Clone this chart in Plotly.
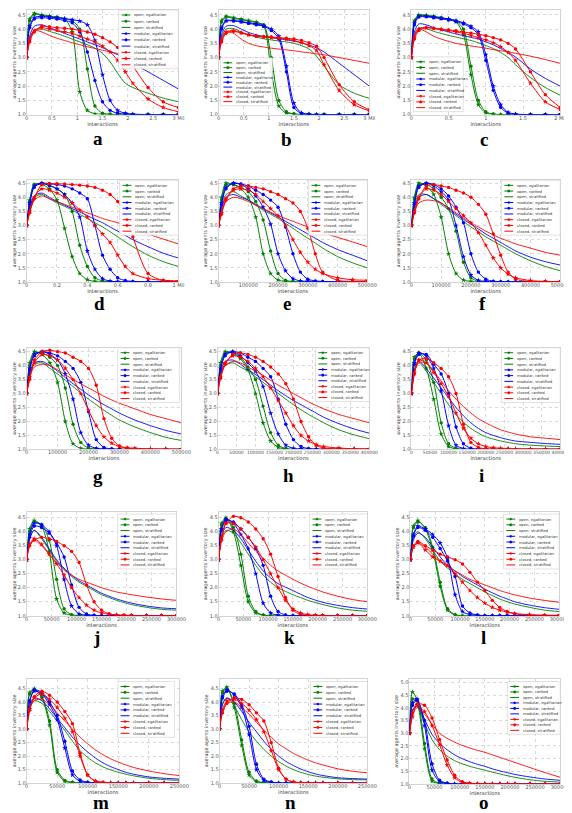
import plotly.graph_objects as go

# ---------------- data ----------------
SERIES_KEYS = ["oe", "or", "os", "me", "mr", "ms", "ce", "cr", "cs"]
SERIES_NAMES = ["open, egalitarian", "open, ranked", "open, stratified",
                "modular, egalitarian", "modular, ranked", "modular, stratified",
                "closed, egalitarian", "closed, ranked", "closed, stratified"]
PANEL_LETTERS = ["a", "b", "c", "d", "e", "f", "g", "h", "i", "j", "k", "l", "m", "n", "o"]

X_3MIL = [0, 0.06, 0.15, 0.3, 0.45, 0.6, 0.75, 0.9, 1.05, 1.2, 1.35, 1.5, 1.65, 1.8, 1.95, 2.1, 2.4, 2.7, 3.0]
X_2MIL = [0, 0.04, 0.1, 0.2, 0.3, 0.4, 0.5, 0.6, 0.7, 0.8, 0.9, 1.0, 1.1, 1.2, 1.3, 1.4, 1.6, 1.8, 2.0]
X_1MIL = [0, 0.02, 0.05, 0.1, 0.15, 0.2, 0.25, 0.3, 0.35, 0.4, 0.45, 0.5, 0.55, 0.6, 0.65, 0.7, 0.8, 0.9, 1.0]
X_500K = [0, 10000, 25000, 50000, 75000, 100000, 125000, 150000, 175000, 200000, 225000, 250000,
          275000, 300000, 325000, 350000, 400000, 450000, 500000]
X_400K = [0, 8000, 20000, 40000, 60000, 80000, 100000, 120000, 140000, 160000, 180000, 200000,
          220000, 240000, 260000, 280000, 320000, 360000, 400000]
X_300K = [0, 6000, 15000, 30000, 45000, 60000, 75000, 90000, 105000, 120000, 135000, 150000,
          165000, 180000, 195000, 210000, 240000, 270000, 300000]
X_250K = [0, 5000, 12500, 25000, 37500, 50000, 62500, 75000, 87500, 100000, 112500, 125000,
          137500, 150000, 162500, 175000, 200000, 225000, 250000]

PANEL_A = {
    "oe": [3.0, 4.35, 4.55, 4.5, 4.46, 4.42, 4.36, 3.9, 1.8, 1.15, 1.03, 1.01, 1.0, 1.0, 1.0, 1.0, 1.0, 1.0, 1.0],
    "or": [3.0, 4.3, 4.52, 4.48, 4.44, 4.4, 4.35, 4.3, 4.0, 2.6, 1.3, 1.05, 1.02, 1.0, 1.0, 1.0, 1.0, 1.0, 1.0],
    "os": [3.0, 3.65, 3.95, 4.0, 3.92, 3.84, 3.75, 3.65, 3.55, 3.45, 3.33, 3.15, 2.85, 2.45, 2.1, 1.95, 1.75, 1.58, 1.45],
    "me": [3.0, 4.1, 4.4, 4.45, 4.42, 4.4, 4.37, 4.33, 4.28, 4.15, 3.6, 2.4, 1.5, 1.15, 1.05, 1.02, 1.0, 1.0, 1.0],
    "mr": [3.0, 4.05, 4.35, 4.4, 4.38, 4.35, 4.3, 4.22, 3.9, 3.2, 2.2, 1.45, 1.15, 1.05, 1.02, 1.0, 1.0, 1.0, 1.0],
    "ms": [3.0, 3.75, 4.1, 4.15, 4.05, 3.95, 3.85, 3.75, 3.65, 3.55, 3.45, 3.35, 3.22, 3.1, 2.95, 2.8, 2.5, 2.2, 1.9],
    "ce": [3.0, 3.6, 3.95, 4.05, 4.0, 3.95, 3.9, 3.85, 3.75, 3.65, 3.55, 3.4, 3.2, 2.9, 2.5, 2.1, 1.55, 1.25, 1.1],
    "cr": [3.0, 3.55, 3.9, 4.1, 4.08, 4.05, 4.03, 4.0, 3.95, 3.9, 3.82, 3.7, 3.55, 3.35, 3.05, 2.7, 1.95, 1.45, 1.25],
    "cs": [3.0, 3.7, 3.95, 3.9, 3.78, 3.68, 3.6, 3.52, 3.45, 3.38, 3.32, 3.26, 3.2, 3.14, 3.08, 3.02, 2.9, 2.78, 2.65],
}
PANEL_B = {
    "oe": [3.0, 4.3, 4.45, 4.4, 4.35, 4.3, 4.25, 4.1, 2.5, 1.3, 1.05, 1.02, 1.0, 1.0, 1.0, 1.0, 1.0, 1.0, 1.0],
    "or": [3.0, 4.25, 4.42, 4.37, 4.33, 4.28, 4.22, 4.15, 3.0, 1.5, 1.1, 1.03, 1.0, 1.0, 1.0, 1.0, 1.0, 1.0, 1.0],
    "os": [3.0, 3.7, 4.0, 4.02, 3.9, 3.8, 3.72, 3.66, 3.62, 3.58, 3.55, 3.5, 3.42, 3.3, 3.05, 2.7, 2.05, 1.75, 1.57],
    "me": [3.0, 4.05, 4.3, 4.3, 4.27, 4.22, 4.18, 4.12, 4.0, 3.75, 2.7, 1.4, 1.06, 1.02, 1.0, 1.0, 1.0, 1.0, 1.0],
    "mr": [3.0, 4.0, 4.28, 4.28, 4.25, 4.2, 4.15, 4.1, 3.95, 3.65, 2.5, 1.25, 1.04, 1.01, 1.0, 1.0, 1.0, 1.0, 1.0],
    "ms": [3.0, 3.8, 4.1, 4.12, 4.0, 3.88, 3.8, 3.74, 3.7, 3.66, 3.62, 3.58, 3.52, 3.44, 3.34, 3.2, 2.8, 2.4, 2.0],
    "ce": [3.0, 3.6, 3.9, 3.95, 3.88, 3.8, 3.75, 3.72, 3.7, 3.68, 3.65, 3.6, 3.52, 3.42, 3.25, 2.75, 1.85, 1.35, 1.13],
    "cr": [3.0, 3.55, 3.85, 3.92, 3.86, 3.8, 3.76, 3.74, 3.72, 3.7, 3.68, 3.65, 3.6, 3.52, 3.4, 3.0, 2.05, 1.45, 1.17],
    "cs": [3.0, 3.7, 3.9, 3.85, 3.65, 3.5, 3.42, 3.37, 3.33, 3.3, 3.27, 3.24, 3.2, 3.17, 3.13, 3.1, 3.0, 2.9, 2.8],
}
PANEL_C = {
    "oe": [3.0, 4.3, 4.5, 4.48, 4.45, 4.4, 4.35, 4.25, 3.8, 2.4, 1.35, 1.06, 1.01, 1.0, 1.0, 1.0, 1.0, 1.0, 1.0],
    "or": [3.0, 4.25, 4.48, 4.47, 4.44, 4.4, 4.35, 4.28, 4.0, 2.7, 1.5, 1.1, 1.02, 1.0, 1.0, 1.0, 1.0, 1.0, 1.0],
    "os": [3.0, 3.8, 4.05, 4.02, 3.92, 3.85, 3.78, 3.72, 3.66, 3.6, 3.52, 3.42, 3.32, 3.18, 3.0, 2.75, 2.3, 1.95, 1.68],
    "me": [3.0, 4.2, 4.45, 4.45, 4.42, 4.38, 4.35, 4.3, 4.22, 4.1, 3.9, 3.1, 2.0, 1.35, 1.08, 1.02, 1.0, 1.0, 1.0],
    "mr": [3.0, 4.15, 4.42, 4.43, 4.4, 4.36, 4.32, 4.27, 4.18, 4.05, 3.8, 2.9, 1.85, 1.25, 1.05, 1.01, 1.0, 1.0, 1.0],
    "ms": [3.0, 3.9, 4.18, 4.15, 4.05, 3.97, 3.9, 3.83, 3.77, 3.71, 3.65, 3.55, 3.45, 3.32, 3.18, 3.02, 2.6, 2.27, 2.0],
    "ce": [3.0, 3.7, 4.0, 4.05, 4.02, 3.98, 3.95, 3.9, 3.85, 3.78, 3.7, 3.62, 3.52, 3.38, 3.18, 2.9, 2.1, 1.45, 1.18],
    "cr": [3.0, 3.65, 3.95, 4.05, 4.03, 4.0, 3.97, 3.94, 3.9, 3.86, 3.82, 3.77, 3.7, 3.62, 3.5, 3.3, 2.5, 1.7, 1.25],
    "cs": [3.0, 3.8, 4.0, 3.9, 3.75, 3.65, 3.57, 3.5, 3.45, 3.41, 3.37, 3.33, 3.28, 3.24, 3.2, 3.15, 3.05, 2.93, 2.8],
}
PANEL_D = {
    "oe": [3.0, 3.9, 4.45, 4.45, 4.3, 3.9, 2.9, 1.9, 1.3, 1.08, 1.02, 1.0, 1.0, 1.0, 1.0, 1.0, 1.0, 1.0, 1.0],
    "or": [3.0, 3.85, 4.45, 4.48, 4.42, 4.3, 4.1, 3.5, 2.3, 1.55, 1.15, 1.04, 1.01, 1.0, 1.0, 1.0, 1.0, 1.0, 1.0],
    "os": [3.0, 3.6, 4.0, 4.1, 3.95, 3.8, 3.68, 3.55, 3.4, 3.25, 3.1, 2.95, 2.78, 2.6, 2.42, 2.25, 1.95, 1.72, 1.55],
    "me": [3.0, 3.8, 4.4, 4.5, 4.42, 4.3, 4.1, 3.8, 3.3, 2.1, 1.45, 1.12, 1.03, 1.01, 1.0, 1.0, 1.0, 1.0, 1.0],
    "mr": [3.0, 3.75, 4.35, 4.5, 4.48, 4.45, 4.4, 4.3, 4.15, 3.95, 3.0, 1.95, 1.45, 1.15, 1.05, 1.02, 1.0, 1.0, 1.0],
    "ms": [3.0, 3.65, 4.05, 4.15, 4.0, 3.85, 3.72, 3.6, 3.48, 3.35, 3.22, 3.1, 2.95, 2.8, 2.65, 2.5, 2.25, 2.02, 1.85],
    "ce": [3.0, 3.5, 4.0, 4.3, 4.25, 4.15, 4.0, 3.8, 3.55, 3.3, 3.0, 2.7, 2.4, 1.95, 1.55, 1.3, 1.12, 1.06, 1.04],
    "cr": [3.0, 3.45, 3.95, 4.45, 4.48, 4.48, 4.47, 4.45, 4.43, 4.4, 4.35, 4.25, 4.1, 3.85, 3.4, 2.6, 1.3, 1.05, 1.02],
    "cs": [3.0, 3.5, 3.9, 4.05, 3.95, 3.85, 3.75, 3.65, 3.55, 3.45, 3.35, 3.25, 3.17, 3.1, 3.0, 2.9, 2.7, 2.52, 2.35],
}
PANEL_E = {
    "oe": [3.0, 4.0, 4.5, 4.45, 4.3, 4.0, 3.3, 2.0, 1.3, 1.07, 1.02, 1.0, 1.0, 1.0, 1.0, 1.0, 1.0, 1.0, 1.0],
    "or": [3.0, 3.9, 4.45, 4.45, 4.35, 4.2, 3.85, 3.2, 2.1, 1.3, 1.06, 1.02, 1.0, 1.0, 1.0, 1.0, 1.0, 1.0, 1.0],
    "os": [3.0, 3.7, 4.1, 4.2, 4.05, 3.9, 3.72, 3.55, 3.4, 3.25, 3.08, 2.9, 2.72, 2.55, 2.38, 2.2, 1.9, 1.68, 1.5],
    "me": [3.0, 3.8, 4.35, 4.5, 4.45, 4.3, 4.05, 3.65, 3.05, 2.0, 1.4, 1.12, 1.04, 1.02, 1.0, 1.0, 1.0, 1.0, 1.0],
    "mr": [3.0, 3.75, 4.3, 4.5, 4.47, 4.4, 4.25, 4.1, 3.9, 3.65, 2.95, 2.0, 1.35, 1.1, 1.04, 1.02, 1.0, 1.0, 1.0],
    "ms": [3.0, 3.6, 4.0, 4.1, 4.0, 3.9, 3.75, 3.6, 3.45, 3.3, 3.15, 3.0, 2.85, 2.7, 2.55, 2.4, 2.15, 1.95, 1.75],
    "ce": [3.0, 3.45, 3.95, 4.25, 4.3, 4.25, 4.1, 3.85, 3.6, 3.35, 3.0, 2.5, 2.05, 1.7, 1.45, 1.3, 1.15, 1.08, 1.06],
    "cr": [3.0, 3.4, 3.9, 4.3, 4.4, 4.4, 4.35, 4.3, 4.2, 4.1, 3.95, 3.8, 3.5, 2.9, 2.0, 1.35, 1.06, 1.02, 1.01],
    "cs": [3.0, 3.5, 3.85, 4.0, 3.95, 3.85, 3.72, 3.6, 3.47, 3.35, 3.25, 3.15, 3.05, 2.95, 2.85, 2.75, 2.58, 2.42, 2.25],
}
PANEL_F = {
    "oe": [3.0, 4.0, 4.5, 4.4, 4.1, 3.3, 2.0, 1.3, 1.07, 1.02, 1.0, 1.0, 1.0, 1.0, 1.0, 1.0, 1.0, 1.0, 1.0],
    "or": [3.0, 3.95, 4.45, 4.45, 4.3, 4.0, 3.6, 2.8, 1.7, 1.15, 1.03, 1.0, 1.0, 1.0, 1.0, 1.0, 1.0, 1.0, 1.0],
    "os": [3.0, 3.7, 4.1, 4.1, 3.95, 3.75, 3.55, 3.35, 3.15, 2.95, 2.78, 2.6, 2.45, 2.3, 2.15, 2.0, 1.75, 1.55, 1.4],
    "me": [3.0, 3.8, 4.4, 4.5, 4.4, 4.2, 3.9, 3.0, 1.9, 1.25, 1.06, 1.02, 1.0, 1.0, 1.0, 1.0, 1.0, 1.0, 1.0],
    "mr": [3.0, 3.75, 4.35, 4.5, 4.45, 4.3, 4.05, 3.65, 3.1, 2.0, 1.35, 1.1, 1.03, 1.01, 1.0, 1.0, 1.0, 1.0, 1.0],
    "ms": [3.0, 3.65, 4.0, 4.1, 3.95, 3.8, 3.6, 3.4, 3.22, 3.05, 2.88, 2.7, 2.55, 2.4, 2.25, 2.1, 1.88, 1.72, 1.6],
    "ce": [3.0, 3.5, 4.0, 4.3, 4.25, 4.1, 3.85, 3.6, 3.35, 3.1, 2.75, 2.3, 1.85, 1.5, 1.28, 1.15, 1.05, 1.02, 1.01],
    "cr": [3.0, 3.45, 3.95, 4.4, 4.45, 4.4, 4.35, 4.25, 4.15, 4.0, 3.75, 3.4, 2.7, 1.95, 1.35, 1.1, 1.02, 1.0, 1.0],
    "cs": [3.0, 3.45, 3.8, 3.9, 3.88, 3.8, 3.62, 3.45, 3.27, 3.1, 2.95, 2.8, 2.67, 2.55, 2.45, 2.35, 2.2, 2.05, 1.95],
}
PANEL_G = {
    "oe": [3.0, 4.1, 4.5, 4.4, 4.1, 3.4, 2.0, 1.2, 1.04, 1.01, 1.0, 1.0, 1.0, 1.0, 1.0, 1.0, 1.0, 1.0, 1.0],
    "or": [3.0, 4.0, 4.45, 4.45, 4.3, 4.0, 3.2, 1.9, 1.25, 1.05, 1.02, 1.0, 1.0, 1.0, 1.0, 1.0, 1.0, 1.0, 1.0],
    "os": [3.0, 3.7, 4.05, 4.1, 3.9, 3.7, 3.47, 3.25, 3.02, 2.8, 2.6, 2.4, 2.22, 2.05, 1.92, 1.8, 1.6, 1.43, 1.32],
    "me": [3.0, 3.9, 4.4, 4.5, 4.4, 4.2, 3.7, 2.8, 1.6, 1.15, 1.04, 1.01, 1.0, 1.0, 1.0, 1.0, 1.0, 1.0, 1.0],
    "mr": [3.0, 3.85, 4.35, 4.5, 4.45, 4.35, 4.15, 3.9, 3.4, 2.35, 1.35, 1.07, 1.02, 1.0, 1.0, 1.0, 1.0, 1.0, 1.0],
    "ms": [3.0, 3.75, 4.1, 4.15, 4.0, 3.8, 3.57, 3.35, 3.15, 2.95, 2.77, 2.6, 2.45, 2.3, 2.17, 2.05, 1.85, 1.68, 1.55],
    "ce": [3.0, 3.6, 4.1, 4.4, 4.35, 4.2, 3.9, 3.5, 3.0, 2.4, 1.85, 1.45, 1.22, 1.1, 1.06, 1.04, 1.02, 1.01, 1.01],
    "cr": [3.0, 3.5, 4.2, 4.5, 4.55, 4.5, 4.45, 4.3, 4.15, 3.9, 3.3, 2.1, 1.4, 1.12, 1.04, 1.02, 1.0, 1.0, 1.0],
    "cs": [3.0, 3.6, 3.95, 4.05, 4.0, 3.85, 3.67, 3.5, 3.35, 3.2, 3.05, 2.9, 2.77, 2.65, 2.55, 2.45, 2.25, 2.1, 1.95],
}
PANEL_H = {
    "oe": [3.0, 4.1, 4.5, 4.45, 4.25, 3.85, 3.0, 1.95, 1.3, 1.07, 1.02, 1.0, 1.0, 1.0, 1.0, 1.0, 1.0, 1.0, 1.0],
    "or": [3.0, 4.0, 4.45, 4.45, 4.3, 3.95, 3.5, 2.55, 1.6, 1.15, 1.03, 1.0, 1.0, 1.0, 1.0, 1.0, 1.0, 1.0, 1.0],
    "os": [3.0, 3.7, 4.0, 4.1, 3.95, 3.8, 3.6, 3.4, 3.2, 3.0, 2.8, 2.6, 2.42, 2.25, 2.1, 1.95, 1.7, 1.52, 1.38],
    "me": [3.0, 3.9, 4.4, 4.5, 4.35, 4.1, 3.8, 3.25, 2.3, 1.55, 1.15, 1.04, 1.01, 1.0, 1.0, 1.0, 1.0, 1.0, 1.0],
    "mr": [3.0, 3.85, 4.35, 4.5, 4.45, 4.3, 4.15, 3.9, 3.6, 2.8, 1.9, 1.35, 1.1, 1.03, 1.01, 1.0, 1.0, 1.0, 1.0],
    "ms": [3.0, 3.8, 4.15, 4.2, 4.05, 3.85, 3.68, 3.5, 3.3, 3.1, 2.92, 2.75, 2.6, 2.45, 2.3, 2.15, 1.92, 1.73, 1.58],
    "ce": [3.0, 3.6, 4.1, 4.35, 4.3, 4.15, 3.9, 3.6, 3.2, 2.75, 2.3, 1.85, 1.5, 1.3, 1.17, 1.1, 1.05, 1.02, 1.02],
    "cr": [3.0, 3.55, 4.05, 4.4, 4.45, 4.4, 4.3, 4.15, 3.95, 3.7, 3.35, 2.8, 2.0, 1.45, 1.15, 1.05, 1.02, 1.01, 1.0],
    "cs": [3.0, 3.65, 4.0, 4.15, 4.1, 3.95, 3.8, 3.65, 3.47, 3.3, 3.15, 3.0, 2.85, 2.7, 2.57, 2.45, 2.25, 2.1, 1.95],
}
PANEL_I = {
    "oe": [3.0, 4.3, 4.45, 3.9, 2.8, 1.55, 1.1, 1.02, 1.0, 1.0, 1.0, 1.0, 1.0, 1.0, 1.0, 1.0, 1.0, 1.0, 1.0],
    "or": [3.0, 4.25, 4.45, 4.2, 3.4, 1.95, 1.2, 1.04, 1.0, 1.0, 1.0, 1.0, 1.0, 1.0, 1.0, 1.0, 1.0, 1.0, 1.0],
    "os": [3.0, 3.8, 4.1, 3.8, 3.4, 3.0, 2.6, 2.25, 1.97, 1.75, 1.58, 1.45, 1.37, 1.3, 1.25, 1.2, 1.15, 1.12, 1.1],
    "me": [3.0, 4.1, 4.45, 4.35, 3.9, 3.1, 1.85, 1.15, 1.03, 1.0, 1.0, 1.0, 1.0, 1.0, 1.0, 1.0, 1.0, 1.0, 1.0],
    "mr": [3.0, 4.05, 4.4, 4.4, 4.05, 3.7, 3.0, 1.8, 1.2, 1.04, 1.01, 1.0, 1.0, 1.0, 1.0, 1.0, 1.0, 1.0, 1.0],
    "ms": [3.0, 3.85, 4.15, 3.9, 3.55, 3.2, 2.85, 2.5, 2.2, 1.95, 1.75, 1.6, 1.5, 1.42, 1.35, 1.3, 1.25, 1.21, 1.18],
    "ce": [3.0, 3.75, 4.2, 4.1, 3.75, 3.35, 2.9, 2.3, 1.75, 1.4, 1.2, 1.1, 1.06, 1.04, 1.03, 1.02, 1.02, 1.01, 1.01],
    "cr": [3.0, 3.7, 4.2, 4.25, 4.1, 3.9, 3.6, 3.0, 1.9, 1.25, 1.07, 1.02, 1.0, 1.0, 1.0, 1.0, 1.0, 1.0, 1.0],
    "cs": [3.0, 3.75, 4.1, 4.1, 3.8, 3.45, 3.1, 2.8, 2.53, 2.3, 2.1, 1.95, 1.82, 1.7, 1.62, 1.55, 1.45, 1.4, 1.35],
}
PANEL_J = {
    "oe": [3.0, 4.1, 4.4, 4.2, 3.3, 1.6, 1.1, 1.02, 1.0, 1.0, 1.0, 1.0, 1.0, 1.0, 1.0, 1.0, 1.0, 1.0, 1.0],
    "or": [3.0, 4.0, 4.35, 4.25, 3.7, 2.3, 1.25, 1.04, 1.01, 1.0, 1.0, 1.0, 1.0, 1.0, 1.0, 1.0, 1.0, 1.0, 1.0],
    "os": [3.0, 3.75, 4.05, 3.75, 3.35, 2.95, 2.65, 2.4, 2.2, 2.05, 1.9, 1.75, 1.65, 1.55, 1.47, 1.4, 1.3, 1.23, 1.2],
    "me": [3.0, 3.9, 4.3, 4.25, 4.0, 3.5, 2.3, 1.35, 1.07, 1.02, 1.0, 1.0, 1.0, 1.0, 1.0, 1.0, 1.0, 1.0, 1.0],
    "mr": [3.0, 3.8, 4.2, 4.15, 3.95, 3.6, 3.1, 2.1, 1.3, 1.06, 1.02, 1.0, 1.0, 1.0, 1.0, 1.0, 1.0, 1.0, 1.0],
    "ms": [3.0, 3.75, 4.05, 3.8, 3.4, 3.0, 2.7, 2.45, 2.25, 2.1, 1.95, 1.8, 1.7, 1.6, 1.52, 1.45, 1.35, 1.28, 1.25],
    "ce": [3.0, 3.55, 3.75, 3.55, 3.2, 2.85, 2.45, 2.0, 1.65, 1.38, 1.2, 1.1, 1.05, 1.03, 1.02, 1.01, 1.0, 1.0, 1.0],
    "cr": [3.0, 3.5, 3.7, 3.8, 3.75, 3.65, 3.5, 3.3, 2.9, 2.1, 1.5, 1.2, 1.07, 1.03, 1.01, 1.0, 1.0, 1.0, 1.0],
    "cs": [3.0, 3.5, 3.7, 3.5, 3.2, 2.9, 2.65, 2.45, 2.3, 2.2, 2.1, 2.0, 1.92, 1.85, 1.8, 1.75, 1.67, 1.6, 1.55],
}
PANEL_K = {
    "oe": [3.0, 4.3, 4.5, 4.0, 2.8, 1.5, 1.1, 1.02, 1.0, 1.0, 1.0, 1.0, 1.0, 1.0, 1.0, 1.0, 1.0, 1.0, 1.0],
    "or": [3.0, 4.25, 4.45, 4.15, 3.2, 1.7, 1.15, 1.03, 1.0, 1.0, 1.0, 1.0, 1.0, 1.0, 1.0, 1.0, 1.0, 1.0, 1.0],
    "os": [3.0, 3.75, 4.05, 3.95, 3.6, 3.2, 2.8, 2.45, 2.2, 2.0, 1.87, 1.75, 1.65, 1.55, 1.47, 1.4, 1.28, 1.2, 1.16],
    "me": [3.0, 4.1, 4.45, 4.3, 3.9, 3.4, 2.5, 1.45, 1.1, 1.02, 1.0, 1.0, 1.0, 1.0, 1.0, 1.0, 1.0, 1.0, 1.0],
    "mr": [3.0, 4.05, 4.4, 4.35, 4.1, 3.8, 3.4, 2.8, 1.7, 1.15, 1.03, 1.0, 1.0, 1.0, 1.0, 1.0, 1.0, 1.0, 1.0],
    "ms": [3.0, 3.85, 4.15, 4.05, 3.75, 3.35, 2.95, 2.6, 2.35, 2.15, 2.02, 1.9, 1.77, 1.65, 1.56, 1.48, 1.37, 1.29, 1.24],
    "ce": [3.0, 3.8, 4.3, 4.3, 4.1, 3.8, 3.45, 3.0, 2.5, 2.0, 1.55, 1.25, 1.1, 1.04, 1.02, 1.01, 1.0, 1.0, 1.0],
    "cr": [3.0, 3.7, 4.3, 4.55, 4.5, 4.35, 4.1, 3.75, 3.2, 2.4, 1.65, 1.2, 1.05, 1.02, 1.0, 1.0, 1.0, 1.0, 1.0],
    "cs": [3.0, 3.7, 4.0, 4.1, 3.9, 3.6, 3.3, 3.05, 2.8, 2.6, 2.45, 2.3, 2.17, 2.05, 1.95, 1.85, 1.7, 1.58, 1.5],
}
PANEL_L = {
    "oe": [3.0, 4.2, 4.4, 4.1, 3.35, 2.05, 1.2, 1.03, 1.0, 1.0, 1.0, 1.0, 1.0, 1.0, 1.0, 1.0, 1.0, 1.0, 1.0],
    "or": [3.0, 4.15, 4.35, 4.15, 3.45, 2.2, 1.25, 1.04, 1.0, 1.0, 1.0, 1.0, 1.0, 1.0, 1.0, 1.0, 1.0, 1.0, 1.0],
    "os": [3.0, 3.8, 4.0, 3.75, 3.35, 2.95, 2.7, 2.5, 2.3, 2.15, 2.0, 1.85, 1.72, 1.6, 1.5, 1.42, 1.3, 1.2, 1.15],
    "me": [3.0, 3.9, 4.2, 4.1, 3.9, 3.6, 3.05, 1.75, 1.15, 1.04, 1.02, 1.0, 1.0, 1.0, 1.0, 1.0, 1.0, 1.0, 1.0],
    "mr": [3.0, 3.85, 4.15, 4.05, 3.8, 3.4, 2.95, 2.4, 1.35, 1.1, 1.03, 1.0, 1.0, 1.0, 1.0, 1.0, 1.0, 1.0, 1.0],
    "ms": [3.0, 3.7, 3.95, 3.8, 3.45, 3.1, 2.8, 2.6, 2.4, 2.25, 2.1, 1.95, 1.82, 1.7, 1.6, 1.5, 1.38, 1.29, 1.23],
    "ce": [3.0, 3.45, 3.6, 3.35, 3.1, 2.95, 2.8, 2.5, 2.2, 1.9, 1.65, 1.45, 1.3, 1.2, 1.13, 1.08, 1.04, 1.02, 1.02],
    "cr": [3.0, 3.5, 3.65, 3.5, 3.35, 3.2, 3.1, 3.0, 2.85, 2.55, 2.2, 1.9, 1.55, 1.3, 1.15, 1.07, 1.02, 1.01, 1.0],
    "cs": [3.0, 3.45, 3.6, 3.45, 3.2, 2.95, 2.75, 2.6, 2.45, 2.3, 2.2, 2.1, 2.0, 1.9, 1.82, 1.75, 1.63, 1.55, 1.48],
}
PANEL_M = {
    "oe": [3.0, 4.35, 4.5, 4.15, 3.15, 1.4, 1.07, 1.02, 1.0, 1.0, 1.0, 1.0, 1.0, 1.0, 1.0, 1.0, 1.0, 1.0, 1.0],
    "or": [3.0, 4.3, 4.45, 4.2, 3.3, 1.5, 1.1, 1.03, 1.0, 1.0, 1.0, 1.0, 1.0, 1.0, 1.0, 1.0, 1.0, 1.0, 1.0],
    "os": [3.0, 3.8, 4.05, 3.95, 3.65, 3.3, 2.95, 2.55, 2.2, 1.95, 1.75, 1.6, 1.49, 1.4, 1.33, 1.27, 1.18, 1.13, 1.1],
    "me": [3.0, 4.05, 4.4, 4.3, 3.9, 3.35, 2.3, 1.3, 1.07, 1.02, 1.0, 1.0, 1.0, 1.0, 1.0, 1.0, 1.0, 1.0, 1.0],
    "mr": [3.0, 4.0, 4.45, 4.35, 4.0, 3.5, 2.55, 1.45, 1.12, 1.03, 1.0, 1.0, 1.0, 1.0, 1.0, 1.0, 1.0, 1.0, 1.0],
    "ms": [3.0, 3.85, 4.15, 4.05, 3.75, 3.4, 3.05, 2.7, 2.4, 2.15, 1.93, 1.75, 1.61, 1.5, 1.4, 1.33, 1.23, 1.18, 1.15],
    "ce": [3.0, 3.75, 4.15, 4.3, 4.1, 3.8, 3.4, 2.9, 2.0, 1.3, 1.08, 1.03, 1.0, 1.0, 1.0, 1.0, 1.0, 1.0, 1.0],
    "cr": [3.0, 3.7, 4.2, 4.4, 4.25, 4.0, 3.65, 3.2, 2.1, 1.3, 1.07, 1.02, 1.0, 1.0, 1.0, 1.0, 1.0, 1.0, 1.0],
    "cs": [3.0, 3.75, 4.05, 4.1, 3.9, 3.6, 3.3, 3.0, 2.7, 2.45, 2.23, 2.05, 1.9, 1.78, 1.67, 1.58, 1.45, 1.35, 1.28],
}
PANEL_N = {
    "oe": [3.0, 4.4, 4.55, 3.8, 2.4, 1.3, 1.05, 1.02, 1.0, 1.0, 1.0, 1.0, 1.0, 1.0, 1.0, 1.0, 1.0, 1.0, 1.0],
    "or": [3.0, 4.35, 4.5, 3.95, 2.6, 1.4, 1.08, 1.02, 1.0, 1.0, 1.0, 1.0, 1.0, 1.0, 1.0, 1.0, 1.0, 1.0, 1.0],
    "os": [3.0, 3.95, 4.15, 3.85, 3.35, 2.9, 2.55, 2.25, 2.0, 1.8, 1.63, 1.5, 1.4, 1.32, 1.26, 1.22, 1.16, 1.13, 1.12],
    "me": [3.0, 4.2, 4.45, 4.25, 3.8, 2.8, 1.5, 1.1, 1.03, 1.0, 1.0, 1.0, 1.0, 1.0, 1.0, 1.0, 1.0, 1.0, 1.0],
    "mr": [3.0, 4.15, 4.4, 4.3, 3.9, 3.1, 1.7, 1.15, 1.04, 1.0, 1.0, 1.0, 1.0, 1.0, 1.0, 1.0, 1.0, 1.0, 1.0],
    "ms": [3.0, 3.9, 4.15, 4.0, 3.65, 3.25, 2.9, 2.55, 2.25, 2.0, 1.8, 1.65, 1.52, 1.42, 1.34, 1.28, 1.2, 1.17, 1.15],
    "ce": [3.0, 3.7, 4.05, 4.1, 3.95, 3.7, 3.35, 2.9, 2.2, 1.5, 1.15, 1.04, 1.01, 1.0, 1.0, 1.0, 1.0, 1.0, 1.0],
    "cr": [3.0, 3.6, 3.95, 4.15, 4.1, 3.9, 3.6, 3.3, 2.5, 1.55, 1.15, 1.04, 1.02, 1.0, 1.0, 1.0, 1.0, 1.0, 1.0],
    "cs": [3.0, 3.65, 3.95, 4.0, 3.8, 3.55, 3.25, 2.95, 2.7, 2.45, 2.27, 2.1, 1.97, 1.85, 1.75, 1.67, 1.53, 1.44, 1.38],
}
PANEL_O = {
    "oe": [3.0, 4.62, 4.3, 2.4, 1.12, 1.03, 1.01, 1.0, 1.0, 1.0, 1.0, 1.0, 1.0, 1.0, 1.0, 1.0, 1.0, 1.0, 1.0],
    "or": [3.0, 4.35, 4.3, 2.6, 1.2, 1.03, 1.0, 1.0, 1.0, 1.0, 1.0, 1.0, 1.0, 1.0, 1.0, 1.0, 1.0, 1.0, 1.0],
    "os": [3.0, 3.9, 4.05, 3.4, 2.75, 2.35, 2.1, 1.92, 1.8, 1.7, 1.62, 1.55, 1.47, 1.4, 1.33, 1.27, 1.17, 1.11, 1.08],
    "me": [3.0, 4.2, 4.35, 3.3, 1.55, 1.1, 1.03, 1.0, 1.0, 1.0, 1.0, 1.0, 1.0, 1.0, 1.0, 1.0, 1.0, 1.0, 1.0],
    "mr": [3.0, 4.1, 4.3, 3.5, 1.8, 1.15, 1.04, 1.0, 1.0, 1.0, 1.0, 1.0, 1.0, 1.0, 1.0, 1.0, 1.0, 1.0, 1.0],
    "ms": [3.0, 3.9, 4.1, 3.55, 2.95, 2.6, 2.35, 2.15, 2.0, 1.88, 1.78, 1.7, 1.6, 1.52, 1.45, 1.38, 1.28, 1.2, 1.15],
    "ce": [3.0, 3.65, 4.1, 3.85, 3.3, 2.55, 1.75, 1.25, 1.07, 1.03, 1.01, 1.0, 1.0, 1.0, 1.0, 1.0, 1.0, 1.0, 1.0],
    "cr": [3.0, 3.8, 4.15, 4.1, 3.6, 2.75, 1.95, 1.35, 1.1, 1.03, 1.01, 1.0, 1.0, 1.0, 1.0, 1.0, 1.0, 1.0, 1.0],
    "cs": [3.0, 3.7, 4.0, 3.75, 3.35, 3.0, 2.8, 2.65, 2.52, 2.42, 2.33, 2.25, 2.15, 2.05, 1.95, 1.85, 1.65, 1.45, 1.27],
}

PANEL_DATA = [PANEL_A, PANEL_B, PANEL_C, PANEL_D, PANEL_E, PANEL_F, PANEL_G, PANEL_H,
              PANEL_I, PANEL_J, PANEL_K, PANEL_L, PANEL_M, PANEL_N, PANEL_O]
PANEL_X = [X_3MIL, X_3MIL, X_2MIL, X_1MIL, X_500K, X_500K, X_500K, X_400K, X_400K,
           X_300K, X_300K, X_300K, X_250K, X_250K, X_300K]

# x tick settings per panel
MIL_TICKS = {
    0: ([0, 0.5, 1, 1.5, 2, 2.5, 3], ["0", "0.5", "1", "1.5", "2", "2.5", "3 Mil"]),
    1: ([0, 0.5, 1, 1.5, 2, 2.5, 3], ["0", "0.5", "1", "1.5", "2", "2.5", "3 Mil"]),
    2: ([0, 0.5, 1, 1.5, 2], ["0", "0.5", "1", "1.5", "2 Mil"]),
    3: ([0, 0.2, 0.4, 0.6, 0.8, 1], ["0", "0.2", "0.4", "0.6", "0.8", "1 Mil"]),
}
X_DTICK = [None, None, None, None, 100000, 100000, 100000, 50000, 50000,
           50000, 50000, 50000, 50000, 50000, 50000]

# ---------------- layout geometry (pixels) ----------------
W, H = 572, 813
# left, right, top, bottom of each plot area
BOXES = [
    (17, 172, 2, 107), (213, 367, 2, 107), (410, 562, 2, 107),
    (17, 172, 173, 275), (213, 365, 173, 275), (410, 562, 173, 275),
    (17, 175, 341, 443), (212, 367, 341, 443), (410, 562, 341, 443),
    (17, 170, 506, 610), (213, 365, 506, 610), (409, 561, 506, 610),
    (17, 173, 673, 778), (214, 365, 673, 778), (408, 562, 673, 779),
]
YMAX = [4.67, 4.67, 4.67, 4.6, 4.6, 4.6, 4.64, 4.64, 4.64, 4.7, 4.7, 4.7, 4.87, 4.87, 5.15]
LEGEND_BOXES = [
    (111, 2, 172, 61), (215, 50, 268, 98), (412, 49, 463, 104),
    (112, 173, 172, 228), (305, 173, 365, 228), (502, 173, 562, 228),
    (110, 341, 173, 396), (312, 341, 367, 395), (502, 341, 562, 396),
    (110, 508, 170, 563), (306, 508, 365, 563), (504, 508, 561, 563),
    (110, 676, 168, 732), (307, 676, 365, 732), (508, 676, 562, 729),
]
LETTER_POS = [(90, 131), (282, 132), (484, 132), (91, 297), (283, 297), (483, 297),
              (90, 470), (284, 469), (482, 469), (88, 632), (285, 632), (484, 632),
              (93, 797), (286, 797), (484, 797)]

GREEN, BLUE, RED = "#008000", "#0000ff", "#ff0000"
STYLE = {
    "oe": (GREEN, "star"), "or": (GREEN, "circle"), "os": (GREEN, None),
    "me": (BLUE, "star"), "mr": (BLUE, "circle"), "ms": (BLUE, None),
    "ce": (RED, "star"), "cr": (RED, "circle"), "cs": (RED, None),
}


def px(x):
    return x / W


def py(y):
    return 1 - y / H


fig = go.Figure()
layout = dict(width=W, height=H, margin=dict(l=0, r=0, t=0, b=0),
              paper_bgcolor="white", plot_bgcolor="white", showlegend=False,
              font=dict(family="DejaVu Sans", color="#444"))
shapes = []
annotations = []

for i in range(15):
    n = "" if i == 0 else str(i + 1)
    xa, ya = "x" + n, "y" + n
    xs = PANEL_X[i]
    data = PANEL_DATA[i]
    for key, name in zip(SERIES_KEYS, SERIES_NAMES):
        color, sym = STYLE[key]
        tr = dict(x=xs, y=data[key], name=name, xaxis=xa, yaxis=ya,
                  line=dict(color=color, width=1.0 if sym else 0.9, shape="spline", smoothing=0.8),
                  hoverinfo="skip")
        if sym:
            tr["mode"] = "lines+markers"
            tr["marker"] = dict(symbol=sym, size=4 if sym == "star" else 3.4, color=color,
                                line=dict(width=0))
        else:
            tr["mode"] = "lines"
        fig.add_trace(go.Scatter(**tr))

    l, r, t, b = BOXES[i]
    xmax = xs[-1]
    xfont = 4.5 if xmax == 400000 else 5
    xaxis = dict(domain=[px(l), px(r)], anchor=ya, range=[0, xmax],
                 showgrid=True, gridcolor="#d9d9d9", griddash="dot", gridwidth=0.7,
                 zeroline=False, showline=True, mirror=True, linecolor="#d4d4d4", linewidth=0.8,
                 ticks="", ticklen=0, ticklabelstandoff=-2, tickangle=0,
                 tickfont=dict(size=xfont, color="#555"),
                 title=dict(text="interactions", font=dict(size=5.2, color="#444"), standoff=0))
    if i in MIL_TICKS:
        xaxis["tickmode"] = "array"
        xaxis["tickvals"] = MIL_TICKS[i][0]
        xaxis["ticktext"] = MIL_TICKS[i][1]
    else:
        xaxis["tickmode"] = "linear"
        xaxis["tick0"] = 0
        xaxis["dtick"] = X_DTICK[i]
        xaxis["tickformat"] = "d"
    ytop = 5.0 if i == 14 else 4.5
    yticks = [1.0 + 0.5 * k for k in range(int(round((ytop - 1.0) / 0.5)) + 1)]
    yaxis = dict(domain=[py(b), py(t)], anchor=xa, range=[1.0, YMAX[i]],
                 tickmode="array", tickvals=yticks, tickformat=".1f",
                 showgrid=True, gridcolor="#d9d9d9", griddash="dot", gridwidth=0.7,
                 zeroline=False, showline=True, mirror=True, linecolor="#d4d4d4", linewidth=0.8,
                 ticks="", ticklen=0, ticklabelstandoff=-1, tickfont=dict(size=5, color="#555"),
                 title=dict(text="average agents inventory size", font=dict(size=4.8, color="#444"),
                            standoff=1))
    layout["xaxis" + n] = xaxis
    layout["yaxis" + n] = yaxis

    # legend (manual, inside plot area)
    L, T, R, B = LEGEND_BOXES[i]
    shapes.append(dict(type="rect", xref="paper", yref="paper", x0=px(L), x1=px(R), y0=py(B), y1=py(T),
                       fillcolor="rgba(255,255,255,0.92)", line=dict(color="#cfcfcf", width=0.6),
                       layer="above"))
    step = (B - T - 9) / 8.0
    for k, (key, name) in enumerate(zip(SERIES_KEYS, SERIES_NAMES)):
        color, sym = STYLE[key]
        yy = T + 5 + k * step
        shapes.append(dict(type="line", xref="paper", yref="paper", x0=px(L + 3), x1=px(L + 12),
                           y0=py(yy), y1=py(yy), line=dict(color=color, width=1), layer="above"))
        if sym:
            rad = 1.3 if sym == "circle" else 1.1
            shapes.append(dict(type="circle", xref="paper", yref="paper",
                               x0=px(L + 7.5 - rad), x1=px(L + 7.5 + rad),
                               y0=py(yy + rad), y1=py(yy - rad),
                               fillcolor=color, line=dict(color=color, width=0.3), layer="above"))
        annotations.append(dict(xref="paper", yref="paper", x=px(L + 14), y=py(yy), text=name,
                                showarrow=False, xanchor="left", yanchor="middle",
                                font=dict(size=3.8, color="#333", family="DejaVu Sans")))

    lx, ly = LETTER_POS[i]
    annotations.append(dict(xref="paper", yref="paper", x=px(lx), y=py(ly), text="<b>%s</b>" % PANEL_LETTERS[i],
                            showarrow=False, xanchor="center", yanchor="middle",
                            font=dict(size=19, color="#000", family="Liberation Serif")))

layout["shapes"] = shapes
layout["annotations"] = annotations
fig.update_layout(**layout)
fig.write_html("out.html")
